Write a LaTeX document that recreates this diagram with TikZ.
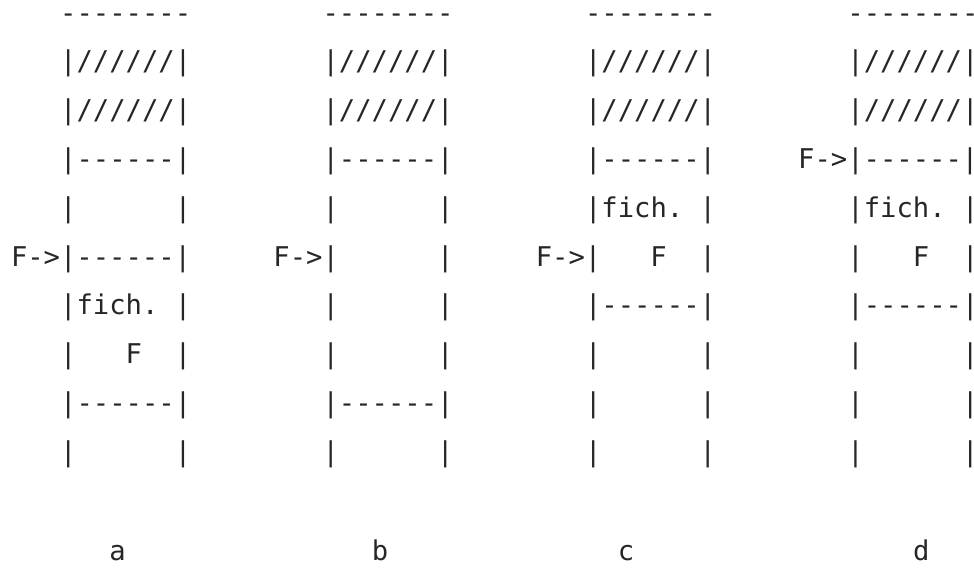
\documentclass[tikz,border=0pt]{standalone}
\usepackage{fontspec}
\newfontfamily\asciifont{DejaVu Sans Mono}

\tikzset{
  ascii/.style={anchor=base west, inner sep=0pt, text=black!85,
    font=\asciifont\fontsize{13.6}{16}\selectfont},
}

\begin{document}
\begin{tikzpicture}[x=0.5pt,y=-0.5pt]
            \def\pitch{16.4}
            \def\rowsep{48.8}
            \def\xo{59.8}
            \def\yo{22}

            \useasboundingbox (0,0) rectangle (974,568);

            % rows common to the four stacks
            \foreach \c/\o in {a/0,b/16,c/32,d/48} {
              \node[ascii] (\c0) at ({\xo+\o*\pitch},{\yo}) {--------};
              \node[ascii] (\c1) at ({\xo+\o*\pitch},{\yo+\rowsep}) {|//////|};
              \node[ascii] (\c2) at ({\xo+\o*\pitch},{\yo+2*\rowsep}) {|//////|};
            }

            % stack a
            \node[ascii] (a3) at ({\xo},{\yo+3*\rowsep}) {|------|};
            \node[ascii] (a4) at ({\xo},{\yo+4*\rowsep}) {|~~~~~~|};
            \node[ascii] (a5) at ({\xo-3*\pitch},{\yo+5*\rowsep}) {F->|------|};
            \node[ascii] (a6) at ({\xo},{\yo+6*\rowsep}) {|fich.~|};
            \node[ascii] (a7) at ({\xo},{\yo+7*\rowsep}) {|~~~F~~|};
            \node[ascii] (a8) at ({\xo},{\yo+8*\rowsep}) {|------|};
            \node[ascii] (a9) at ({\xo},{\yo+9*\rowsep}) {|~~~~~~|};

            % stack b
            \node[ascii] (b3) at ({\xo+16*\pitch},{\yo+3*\rowsep}) {|------|};
            \node[ascii] (b4) at ({\xo+16*\pitch},{\yo+4*\rowsep}) {|~~~~~~|};
            \node[ascii] (b5) at ({\xo+13*\pitch},{\yo+5*\rowsep}) {F->|~~~~~~|};
            \node[ascii] (b6) at ({\xo+16*\pitch},{\yo+6*\rowsep}) {|~~~~~~|};
            \node[ascii] (b7) at ({\xo+16*\pitch},{\yo+7*\rowsep}) {|~~~~~~|};
            \node[ascii] (b8) at ({\xo+16*\pitch},{\yo+8*\rowsep}) {|------|};
            \node[ascii] (b9) at ({\xo+16*\pitch},{\yo+9*\rowsep}) {|~~~~~~|};

            % stack c
            \node[ascii] (c3) at ({\xo+32*\pitch},{\yo+3*\rowsep}) {|------|};
            \node[ascii] (c4) at ({\xo+32*\pitch},{\yo+4*\rowsep}) {|fich.~|};
            \node[ascii] (c5) at ({\xo+29*\pitch},{\yo+5*\rowsep}) {F->|~~~F~~|};
            \node[ascii] (c6) at ({\xo+32*\pitch},{\yo+6*\rowsep}) {|------|};
            \node[ascii] (c7) at ({\xo+32*\pitch},{\yo+7*\rowsep}) {|~~~~~~|};
            \node[ascii] (c8) at ({\xo+32*\pitch},{\yo+8*\rowsep}) {|~~~~~~|};
            \node[ascii] (c9) at ({\xo+32*\pitch},{\yo+9*\rowsep}) {|~~~~~~|};

            % stack d
            \node[ascii] (d3) at ({\xo+45*\pitch},{\yo+3*\rowsep}) {F->|------|};
            \node[ascii] (d4) at ({\xo+48*\pitch},{\yo+4*\rowsep}) {|fich.~|};
            \node[ascii] (d5) at ({\xo+48*\pitch},{\yo+5*\rowsep}) {|~~~F~~|};
            \node[ascii] (d6) at ({\xo+48*\pitch},{\yo+6*\rowsep}) {|------|};
            \node[ascii] (d7) at ({\xo+48*\pitch},{\yo+7*\rowsep}) {|~~~~~~|};
            \node[ascii] (d8) at ({\xo+48*\pitch},{\yo+8*\rowsep}) {|~~~~~~|};
            \node[ascii] (d9) at ({\xo+48*\pitch},{\yo+9*\rowsep}) {|~~~~~~|};

            % captions
            \node[ascii] (la) at ({\xo+3*\pitch},560) {a};
            \node[ascii] (lb) at ({\xo+19*\pitch},560) {b};
            \node[ascii] (lc) at ({\xo+34*\pitch},560) {c};
            \node[ascii] (ld) at ({\xo+52*\pitch},560) {d};
        \end{tikzpicture}
\end{document}
